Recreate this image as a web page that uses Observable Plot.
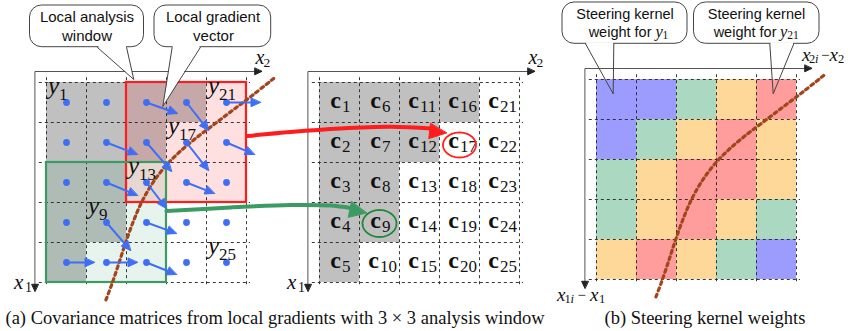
<!DOCTYPE html>
<html>
<head>
<meta charset="utf-8">
<script src="https://cdn.jsdelivr.net/npm/d3@7"></script>
<script src="https://cdn.jsdelivr.net/npm/@observablehq/plot@0.6"></script>
<style>
html,body{margin:0;padding:0;background:#fff;}
#chart svg{display:block;}
</style>
</head>
<body>
<div id="chart"></div>
<script>
// ================= DATA =================
const gridSize = 5;
// cells on the upper-left side of the edge (gray), index = col*5 + row + 1
const grayCells = [1, 2, 3, 4, 5, 6, 7, 8, 9, 11, 12, 16];
// pixel labels y_i shown in panel (a)
const yLabelIdx = [1, 21, 17, 13, 9, 25];
// local gradient vectors: cell index, dx, dy (px)
const gradIdx = [11, 16, 21, 7, 12, 17, 22, 8, 13, 18, 9, 14, 5, 10, 15];
const gradDx  = [31, 22, 34, 31, 25, 22, 28, 31, 20, 28, 24, 30, 28, 31, 30];
const gradDy  = [11, 28,  0, 12, 29, 28, 12, 13, 26, 11, 28, 11,  0,  0, 12];
// steering kernel weight levels (1 = low ... 4 = high), rows top -> bottom
const weightRows = [
  [1, 1, 2, 3, 4],
  [1, 2, 3, 4, 3],
  [2, 3, 4, 4, 3],
  [2, 3, 4, 3, 2],
  [3, 4, 3, 2, 1]
];
const weightLevels = [1, 2, 3, 4];
const weightColors = ["#9c9cff", "#aad8c1", "#fdd898", "#ff9c9c"];
// edge curve (cell units relative to a panel grid)
const edgeX = [5.68, 5.2, 4.7, 4.2, 3.7, 3.3, 2.95, 2.65, 2.4, 2.18, 1.98, 1.8, 1.63, 1.48];
const edgeY = [-0.1, 0.28, 0.66, 1.04, 1.42, 1.76, 2.12, 2.52, 2.95, 3.45, 4.0, 4.55, 5.05, 5.45];
// analysis windows (top-left cell, 3x3)
const windowCol = [2, 0];
const windowRow = [0, 2];
// highlighted covariance matrices
const pickIdx = [17, 9];
// texts
const calloutLines = [["Local analysis", "window"], ["Local gradient", "vector"], ["Steering kernel", "weight for"], ["Steering kernel", "weight for"]];
const calloutSub = [null, null, "1", "21"];
const captions = ["(a) Covariance matrices from local gradients with 3 \u00d7 3 analysis window", "(b) Steering kernel weights"];

// ================= LAYOUT =================
const W = 851, H = 331, S = 40, X0 = 46, Y0 = 82;
const off = {A: [0, 0], C: [273 / S, 0], B: [550 / S, -3 / S]};
const U = (xp, yp) => [(xp - X0) / S, (yp - Y0) / S];
const SERIF = "'Liberation Serif', 'Times New Roman', serif";
const SANS = "'Liberation Sans', Arial, sans-serif";
const BLUE = "#3f6ef5", BROWN = "#a3451c", RED = "#ff1c1c", GREEN = "#3c9b62";

const cells = d3.range(gridSize * gridSize).map(i => ({idx: i + 1, col: Math.floor(i / gridSize), row: i % gridSize}));
const byIdx = k => cells[k - 1];
const rectOf = p => ({
  x1: d => off[p][0] + d.col, x2: d => off[p][0] + d.col + 1,
  y1: d => off[p][1] + d.row, y2: d => off[p][1] + d.row + 1
});

function tri(id, tx, ty, dx, dy, lenPx, halfPx) {
  const L = Math.hypot(dx, dy), ux = dx / L, uy = dy / L;
  const l = lenPx / S, h = halfPx / S;
  const bx = tx - ux * l, by = ty - uy * l;
  return [
    {id, x: tx, y: ty},
    {id, x: bx - uy * h, y: by + ux * h},
    {id, x: bx + uy * h, y: by - ux * h}
  ];
}
const polyMark = (pts, color) => Plot.line(pts, {x: "x", y: "y", z: "id", fill: color, stroke: color, strokeWidth: 1, curve: "linear-closed"});

const gray = cells.filter(d => grayCells.includes(d.idx));
const wCells = cells.map(d => ({...d, w: weightRows[d.row][d.col]}));
const wins = windowCol.map((c, i) => ({x1: c, x2: c + 3, y1: windowRow[i], y2: windowRow[i] + 3}));

function gridLines(p) {
  const [ox, oy] = off[p];
  const ks = d3.range(gridSize + 1);
  const st = {stroke: "#222", strokeWidth: 0.9, strokeDasharray: "3,3"};
  return [
    Plot.ruleX(ks, {x: k => ox + k, y1: oy - 0.12, y2: oy + 5.12, ...st}),
    Plot.ruleY(ks, {y: k => oy + k, x1: ox - 0.18, x2: ox + 5.1, ...st})
  ];
}
function axisMarks(p) {
  const [ox, oy] = off[p];
  const cx = ox - 0.29, cy = oy - 0.275, xe = ox + 5.38, ye = oy + 5.22;
  const pts = [{x: xe - 0.12, y: cy}, {x: cx, y: cy}, {x: cx, y: ye - 0.12}];
  const heads = [...tri(p + "ax", xe, cy, 1, 0, 7, 3.3), ...tri(p + "ay", cx, ye, 0, 1, 7, 3.3)];
  return [
    Plot.line(pts, {x: "x", y: "y", stroke: "#555", strokeWidth: 1}),
    polyMark(heads, "#222")
  ];
}
const edgeOf = p => edgeX.map((x, i) => ({x: off[p][0] + x, y: off[p][1] + edgeY[i]}));

const grads = gradIdx.map((k, i) => {
  const c = byIdx(k), x = c.col + 0.5, y = c.row + 0.5, L = Math.hypot(gradDx[i], gradDy[i]);
  return {id: "g" + k, x, y, x2: x + gradDx[i] / S, y2: y + gradDy[i] / S, ux: gradDx[i] / L, uy: gradDy[i] / L, dx: gradDx[i], dy: gradDy[i]};
});
const gradHeads = grads.flatMap(d => tri(d.id, d.x2, d.y2, d.dx, d.dy, 9.5, 4.2));

function ellPts(k, rx, ry, dy) {
  const c = byIdx(k), cx = off.C[0] + c.col + 0.5, cy = c.row + 0.5 + dy / S;
  return d3.range(72).map(i => { const a = i / 72 * 2 * Math.PI; return {x: cx + rx / S * Math.cos(a), y: cy + ry / S * Math.sin(a)}; });
}

const redPath = [[247, 135.5], [290, 131.5], [340, 128], [390, 126.3], [431, 128]];
const redTip = [446, 132.5];
const greenPath = [[166, 210.5], [230, 207], [290, 204.5], [330, 205], [350, 207.5]];
const greenTip = [366, 212.5];
const toPts = arr => arr.map(([a, b]) => { const [x, y] = U(a, b); return {x, y}; });
function covHead(id, path, tip, len, half) {
  const [t0, t1] = U(...tip), [p0, p1] = U(...path[path.length - 2]);
  return tri(id, t0, t1, t0 - p0, t1 - p1, len, half);
}

const callouts = [
  {x1: 29.5, x2: 143.5, y1: 5, y2: 46.7, b1: 96.7, b2: 126, tx: 133.3, ty: 79, fill: true},
  {x1: 154, x2: 270.7, y1: 5, y2: 46.7, b1: 171.7, b2: 200, tx: 162.3, ty: 106, fill: true},
  {x1: 562, x2: 687, y1: 2, y2: 43.3, b1: 585, b2: 613.3, tx: 612.7, ty: 93.3, fill: false},
  {x1: 693.5, x2: 819, y1: 2, y2: 43.3, b1: 769.3, b2: 793.3, tx: 772.7, ty: 93.3, fill: false}
];
const coverPts = callouts.flatMap((c, i) => {
  const id = "cv" + i;
  const pts = c.fill
    ? [[c.b1 + 0.6, c.y2 - 1.5], [c.b2 - 0.6, c.y2 - 1.5], [c.tx, c.ty]]
    : [[c.b1 + 0.8, c.y2 - 1.5], [c.b2 - 0.8, c.y2 - 1.5], [c.b2 - 0.8, c.y2 + 1.2], [c.b1 + 0.8, c.y2 + 1.2]];
  return pts.map(([a, b]) => { const [x, y] = U(a, b); return {id, x, y}; });
});
const tailSegs = callouts.flatMap(c => [[c.b1, c.y2, c.tx, c.ty], [c.b2, c.y2, c.tx, c.ty]]);

// text entries (px positions, baseline)
const calloutPos = [
  [[86.5, 21.5], [86.5, 40]],
  [[212.5, 21.5], [213, 40]],
  [[624.5, 18.5], [651, 36.5]],
  [[756, 18.5], [776, 36.5]]
];
const subPos = [null, null, [655, 662], [779.5, 786.7]];
const texts = [];
calloutLines.forEach((lines, i) => {
  const sz = calloutSub[i] ? 14.5 : 15;
  texts.push({t: lines[0], x: calloutPos[i][0][0], y: calloutPos[i][0][1], size: sz, font: SANS, anchor: "middle"});
  if (calloutSub[i]) {
    texts.push({t: lines[1], x: calloutPos[i][1][0], y: calloutPos[i][1][1], size: sz, font: SANS, anchor: "end"});
    texts.push({t: "y", x: subPos[i][0], y: 36.5, size: 16.5, font: SERIF, style: "italic"});
    texts.push({t: calloutSub[i], x: subPos[i][1], y: 38.5, size: 11.5, font: SERIF});
  } else {
    texts.push({t: lines[1], x: calloutPos[i][1][0], y: calloutPos[i][1][1], size: sz, font: SANS, anchor: "middle"});
  }
});
for (const p of ["A", "C"]) {
  const ox = off[p][0] * S;
  texts.push({t: "x", x: 255 + ox, y: 63.5, size: 20, font: SERIF, style: "italic"});
  texts.push({t: "2", x: 263 + ox, y: 66.5, size: 13.5, font: SERIF});
  texts.push({t: "x", x: 13.5 + ox, y: 288, size: 21, font: SERIF, style: "italic"});
  texts.push({t: "1", x: 24.5 + ox, y: 291, size: 14, font: SERIF});
}
const bLabel = (x0, yb, sub, gaps) => {
  texts.push({t: "x", x: x0, y: yb, size: 19, font: SERIF, style: "italic"});
  texts.push({t: sub, x: x0 + gaps[0], y: yb + 2.5, size: 12.5, font: SERIF});
  texts.push({t: "i", x: x0 + gaps[1], y: yb + 2.5, size: 12.5, font: SERIF, style: "italic"});
  texts.push({t: "\u2212", x: x0 + gaps[2], y: yb - 0.5, size: 15, font: SERIF});
  texts.push({t: "x", x: x0 + gaps[3], y: yb, size: 19, font: SERIF, style: "italic"});
  texts.push({t: sub, x: x0 + gaps[4], y: yb + 2.5, size: 12.5, font: SERIF});
};
bLabel(801.5, 60, "2", [7, 13, 19, 27.5, 36]);
bLabel(556.5, 300, "1", [7.5, 13.5, 20.5, 33, 42]);
texts.push({t: captions[0], x: 5, y: 323.5, size: 18.5, font: SERIF});
texts.push({t: captions[1], x: 604, y: 323.5, size: 18.5, font: SERIF});

function textMarks(entries) {
  const groups = d3.group(entries, e => [e.font, e.style || "normal", e.weight || "normal", e.anchor || "start"].join("|"));
  return Array.from(groups, ([key, arr]) => {
    const [font, style, weight, anchor] = key.split("|");
    return Plot.text(arr, {
      x: e => U(e.x, e.y)[0], y: e => U(e.x, e.y)[1], text: e => e.t, fontSize: e => e.size,
      fontFamily: font, fontStyle: style, fontWeight: weight, textAnchor: anchor, lineAnchor: "bottom", fill: "#111"
    });
  });
}

const yl = yLabelIdx.map(byIdx);

const chart = Plot.plot({
  width: W, height: H, margin: 0,
  x: {domain: [-X0 / S, (W - X0) / S], range: [0, W], axis: null},
  y: {domain: [-Y0 / S, (H - Y0) / S], range: [0, H], axis: null},
  color: {type: "ordinal", domain: weightLevels, range: weightColors},
  style: {background: "white", overflow: "visible"},
  marks: [
    Plot.rect(gray, {...rectOf("A"), fill: "#c0c0c0"}),
    Plot.rect(gray, {...rectOf("C"), fill: "#c0c0c0"}),
    Plot.rect(wCells, {...rectOf("B"), fill: "w"}),
    Plot.rect([wins[0]], {x1: "x1", x2: "x2", y1: "y1", y2: "y2", fill: "#ff0000", fillOpacity: 0.12}),
    Plot.rect([wins[1]], {x1: "x1", x2: "x2", y1: "y1", y2: "y2", fill: "#3ca06a", fillOpacity: 0.12}),
    ...gridLines("A"), ...gridLines("C"), ...gridLines("B"),
    Plot.rect([wins[0]], {x1: "x1", x2: "x2", y1: "y1", y2: "y2", fill: "none", stroke: RED, strokeWidth: 2.2}),
    Plot.rect([wins[1]], {x1: "x1", x2: "x2", y1: "y1", y2: "y2", fill: "none", stroke: GREEN, strokeWidth: 2.2}),
    Plot.line(edgeOf("A"), {x: "x", y: "y", curve: "catmull-rom", stroke: BROWN, strokeWidth: 3.2, strokeDasharray: "3,3.6"}),
    Plot.line(edgeOf("B"), {x: "x", y: "y", curve: "catmull-rom", stroke: BROWN, strokeWidth: 3.2, strokeDasharray: "3,3.6"}),
    ...axisMarks("A"), ...axisMarks("C"), ...axisMarks("B"),
    Plot.link(grads, {x1: "x", y1: "y", x2: d => d.x2 - d.ux * 6 / S, y2: d => d.y2 - d.uy * 6 / S, stroke: BLUE, strokeWidth: 2}),
    polyMark(gradHeads, BLUE),
    Plot.dot(cells, {x: d => d.col + 0.5, y: d => d.row + 0.5, r: 3.4, fill: BLUE}),
    Plot.text(yl, {x: d => d.col + 1.5 / S, y: d => d.row + 11.5 / S, text: () => "y", fontFamily: SERIF, fontStyle: "italic", fontSize: 25, textAnchor: "start", lineAnchor: "bottom", fill: "#111"}),
    Plot.text(yl, {x: d => d.col + 12.5 / S, y: d => d.row + 17.5 / S, text: d => String(d.idx), fontFamily: SERIF, fontSize: 17, textAnchor: "start", lineAnchor: "bottom", fill: "#111"}),
    Plot.text(cells, {x: d => off.C[0] + d.col + 0.5 + (d.idx < 10 ? 1.5 : -0.5) / S, y: d => d.row + 0.5 + 5 / S, text: () => "c", fontFamily: SERIF, fontWeight: "bold", fontSize: 24, textAnchor: "end", lineAnchor: "bottom", fill: "#111"}),
    Plot.text(cells, {x: d => off.C[0] + d.col + 0.5 + (d.idx < 10 ? 2.5 : 0.5) / S, y: d => d.row + 0.5 + 9.5 / S, text: d => String(d.idx), fontFamily: SERIF, fontSize: 17, textAnchor: "start", lineAnchor: "bottom", fill: "#111"}),
    Plot.line(ellPts(pickIdx[0], 16.5, 12.5, 2.5), {x: "x", y: "y", curve: "linear-closed", stroke: "#ff2020", strokeWidth: 1.8}),
    Plot.line(ellPts(pickIdx[1], 17, 13.5, 1), {x: "x", y: "y", curve: "linear-closed", stroke: "#1e8a38", strokeWidth: 1.8}),
    Plot.line(toPts(redPath), {x: "x", y: "y", curve: "catmull-rom", stroke: RED, strokeWidth: 4}),
    polyMark(covHead("rh", redPath, redTip, 17, 7.5), RED),
    Plot.line(toPts(greenPath), {x: "x", y: "y", curve: "catmull-rom", stroke: GREEN, strokeWidth: 4}),
    polyMark(covHead("gh", greenPath, greenTip, 17, 8), GREEN),
    Plot.rect(callouts, {x1: d => U(d.x1, 0)[0], x2: d => U(d.x2, 0)[0], y1: d => U(0, d.y1)[1], y2: d => U(0, d.y2)[1], fill: "white", stroke: "#444", strokeWidth: 1, rx: 12}),
    Plot.line(coverPts, {x: "x", y: "y", z: "id", fill: "white", stroke: "none", curve: "linear-closed"}),
    Plot.link(tailSegs, {x1: s => U(s[0], s[1])[0], y1: s => U(s[0], s[1])[1], x2: s => U(s[2], s[3])[0], y2: s => U(s[2], s[3])[1], stroke: "#444", strokeWidth: 1}),
    ...textMarks(texts)
  ]
});
document.getElementById("chart").append(chart);
</script>
</body>
</html>
